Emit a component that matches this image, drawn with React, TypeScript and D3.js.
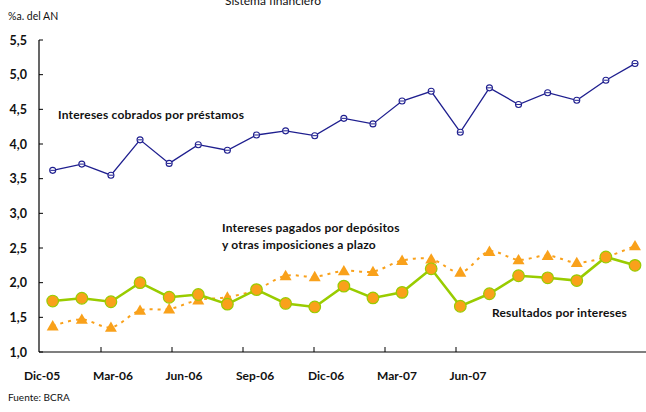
import React from "react";
import * as d3 from "d3";

const months = ["Dic-05","Ene-06","Feb-06","Mar-06","Abr-06","May-06","Jun-06","Jul-06","Ago-06","Sep-06","Oct-06","Nov-06","Dic-06","Ene-07","Feb-07","Mar-07","Abr-07","May-07","Jun-07","Jul-07","Ago-07"];
const cobrados = [3.62,3.71,3.55,4.06,3.72,3.99,3.91,4.13,4.19,4.12,4.37,4.29,4.62,4.76,4.17,4.81,4.57,4.74,4.63,4.92,5.16];
const pagados = [1.375,1.47,1.355,1.6,1.62,1.75,1.79,1.9,2.1,2.085,2.17,2.16,2.32,2.34,2.15,2.45,2.33,2.39,2.29,2.37,2.53];
const resultados = [1.735,1.775,1.725,2.0,1.79,1.83,1.69,1.9,1.7,1.65,1.95,1.78,1.86,2.2,1.66,1.84,2.1,2.07,2.03,2.37,2.25];
const xLabels = ["Dic-05","Mar-06","Jun-06","Sep-06","Dic-06","Mar-07","Jun-07"];
const yTicks = [1.0,1.5,2.0,2.5,3.0,3.5,4.0,4.5,5.0,5.5];

const FONT = "Lato, 'DejaVu Sans', sans-serif";

export default function App() {
  const W = 646, H = 412;
  const x = d3.scaleLinear().domain([0, months.length - 1]).range([52.7, 635]);
  const y = d3.scaleLinear().domain([1, 5.5]).range([352, 40]);
  const xT = d3.scaleLinear().domain([0, 1]).range([30, 101]);
  const axisX = 39, axisY = 352;

  const lineStraight = d3.line<number>().x((_, i) => x(i)).y(d => y(d));
  const lineSmooth = d3.line<number>().x((_, i) => x(i)).y(d => y(d)).curve(d3.curveCatmullRom.alpha(0.5));
  const fmt = (v: number) => v.toFixed(1).replace(".", ",");
  const tri = d3.symbol().type(d3.symbolTriangle).size(62)();

  return (
    <svg width={W} height={H} style={{ position: "absolute", left: 0, top: 0, background: "#fff" }} fontFamily={FONT}>
      <text x={273} y={5} textAnchor="middle" fontSize={12} fill="#111">Sistema financiero</text>
      <text x={8} y={20} fontSize={10.5} fill="#111">%a. del AN</text>

      {/* y axis */}
      <line x1={axisX} x2={axisX} y1={y(5.5)} y2={axisY} stroke="#000" strokeWidth={1.2} />
      {yTicks.map(t => (
        <g key={t}>
          <line x1={axisX} x2={axisX + 4} y1={y(t)} y2={y(t)} stroke="#000" strokeWidth={1} />
          <text x={27} y={y(t)} dy="0.36em" textAnchor="end" fontSize={12.5} fontWeight="bold" fill="#111">{fmt(t)}</text>
        </g>
      ))}

      {/* x axis */}
      <line x1={axisX} x2={646} y1={axisY} y2={axisY} stroke="#000" strokeWidth={1.2} />
      {xLabels.map((l, k) => (
        <g key={l}>
          {k > 0 && <line x1={xT(k)} x2={xT(k)} y1={axisY} y2={axisY - 5} stroke="#000" strokeWidth={1} />}
          <text x={xT(k) + 12} y={380} textAnchor="middle" fontSize={12} fontWeight="bold" fill="#111">{l}</text>
        </g>
      ))}

      {/* pagados dotted smooth */}
      <path d={lineSmooth(pagados) || ""} fill="none" stroke="#F9A11B" strokeWidth={2} strokeDasharray="3,5" />
      {pagados.map((v, i) => (
        <path key={"t" + i} d={tri || ""} transform={`translate(${x(i)},${y(v) + 1})`} fill="#F9A11B" />
      ))}

      {/* resultados */}
      <path d={lineStraight(resultados) || ""} fill="none" stroke="#99CC00" strokeWidth={2.6} />
      {resultados.map((v, i) => (
        <circle key={"r" + i} cx={x(i)} cy={y(v)} r={5.8} fill="#F9A11B" stroke="#99CC00" strokeWidth={1.2} />
      ))}

      {/* cobrados */}
      <path d={lineStraight(cobrados) || ""} fill="none" stroke="#1F1F8F" strokeWidth={1.3} />
      {cobrados.map((v, i) => (
        <g key={"c" + i}>
          <circle cx={x(i)} cy={y(v)} r={3} fill="#fff" stroke="#1F1F8F" strokeWidth={1.1} />
          <line x1={x(i) - 2.4} x2={x(i) + 2.4} y1={y(v)} y2={y(v)} stroke="#1F1F8F" strokeWidth={1} />
        </g>
      ))}

      <g fontSize={12} fontWeight="bold" fill="#111" letterSpacing={0.2}>
        <text x={58} y={119}>Intereses cobrados por préstamos</text>
        <text x={222} y={232}>Intereses pagados por depósitos</text>
        <text x={222} y={249}>y otras imposiciones a plazo</text>
        <text x={492} y={317}>Resultados por intereses</text>
      </g>

      <text x={8} y={401} fontSize={10} fill="#111">Fuente: BCRA</text>
    </svg>
  );
}
